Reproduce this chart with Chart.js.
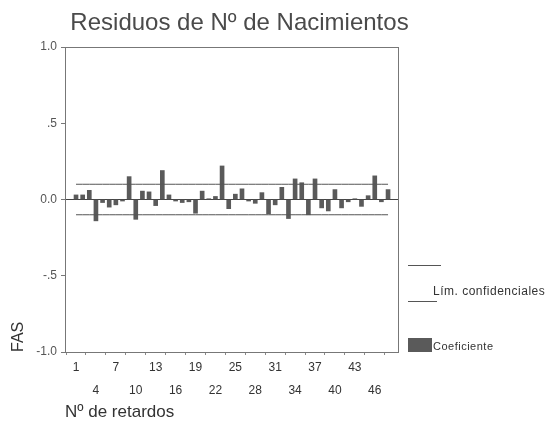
<!DOCTYPE html>
<html>
<head>
<meta charset="utf-8">
<script src="https://cdn.jsdelivr.net/npm/chart.js@4"></script>
<style>
  html, body { margin: 0; padding: 0; background: #fff; }
  #wrap { width: 547px; height: 425px; }
</style>
</head>
<body>
<div id="wrap"><canvas id="acf" width="547" height="425"></canvas></div>
<script>
// lags and autocorrelation values
const lags = [1,2,3,4,5,6,7,8,9,10,11,12,13,14,15,16,17,18,19,20,21,22,23,24,
              25,26,27,28,29,30,31,32,33,34,35,36,37,38,39,40,41,42,43,44,45,46,47,48];
const coef = [0.03, 0.03, 0.06, -0.14, -0.02, -0.05, -0.035, -0.01, 0.15, -0.13, 0.055, 0.05,
              -0.04, 0.19, 0.03, -0.01, -0.02, -0.015, -0.09, 0.055, 0.005, 0.02, 0.22, -0.06,
              0.035, 0.07, -0.01, -0.025, 0.045, -0.095, -0.035, 0.08, -0.125, 0.135, 0.11, -0.10,
              0.135, -0.055, -0.075, 0.065, -0.055, -0.015, 0.005, -0.045, 0.025, 0.155, -0.015, 0.065];
const upperLimit = lags.map(() => 0.10);
const lowerLimit = lags.map(() => -0.10);

// tick labels
const xTicks = [1,4,7,10,13,16,19,22,25,28,31,34,37,40,43,46];
const yTicks = [-1, -0.5, 0, 0.5, 1];
const yTickLabels = ["-1.0", "-.5", "0.0", ".5", "1.0"];

const chartTitle = "Residuos de Nº de Nacimientos";
const xTitle = "Nº de retardos";
const yTitle = "FAS";
const legendLimits = "Lím. confidenciales";
const legendCoef = "Coeficiente";

const FONT = "'Liberation Sans', Arial, sans-serif";

// title + legend drawn next to the plot, frame round the plot
const extras = {
  id: "extras",
  beforeDatasetsDraw(chart) {
    const ctx = chart.ctx, a = chart.chartArea;
    ctx.save();
    ctx.strokeStyle = "#777";
    ctx.lineWidth = 1;
    ctx.strokeRect(a.left + 0.5, a.top + 0.5, a.right - a.left, a.bottom - a.top);
    ctx.restore();
  },
  afterDraw(chart) {
    const ctx = chart.ctx, a = chart.chartArea;
    ctx.save();
    ctx.fillStyle = "#4a4a4a";
    ctx.font = "24px " + FONT;
    ctx.textAlign = "center";
    ctx.textBaseline = "middle";
    ctx.fillText(chartTitle, (a.left + a.right) / 2 + 8, 23);

    // legend
    const lx = a.right + 10;
    ctx.strokeStyle = "#555";
    ctx.lineWidth = 1;
    ctx.beginPath();
    ctx.moveTo(lx, 265.5); ctx.lineTo(lx + 33, 265.5);
    ctx.moveTo(lx, 301.5); ctx.lineTo(lx + 29, 301.5);
    ctx.stroke();
    ctx.fillStyle = "#333";
    ctx.font = "12px " + FONT;
    ctx.textAlign = "left";
    ctx.letterSpacing = "0.5px";
    ctx.fillText(legendLimits, lx + 25, 292);
    ctx.fillStyle = "#5a5a5a";
    ctx.fillRect(lx, 338, 24, 14);
    ctx.fillStyle = "#333";
    ctx.font = "11px " + FONT;
    ctx.fillText(legendCoef, lx + 25, 347);
    ctx.restore();
  }
};

const ctx = document.getElementById("acf").getContext("2d");
new Chart(ctx, {
  type: "bar",
  data: {
    datasets: [
      {
        type: "line",
        label: "upper",
        data: lags.map((l, i) => ({ x: l, y: upperLimit[i] })),
        borderColor: "#555",
        borderWidth: 1,
        pointRadius: 0,
        fill: false
      },
      {
        type: "line",
        label: "lower",
        data: lags.map((l, i) => ({ x: l, y: lowerLimit[i] })),
        borderColor: "#555",
        borderWidth: 1,
        pointRadius: 0,
        fill: false
      },
      {
        label: legendCoef,
        data: lags.map((l, i) => ({ x: l, y: coef[i] })),
        backgroundColor: "#5a5a5a",
        barThickness: 4
      }
    ]
  },
  options: {
    responsive: false,
    animation: false,
    layout: { padding: { left: 0, right: 149, top: 47, bottom: 0 } },
    plugins: {
      legend: { display: false },
      tooltip: { enabled: false }
    },
    scales: {
      x: {
        type: "linear",
        offset: false,
        min: -0.66,
        max: 49.5,
        afterBuildTicks: s => { s.ticks = xTicks.map(v => ({ value: v })); },
        afterFit: s => { s.height = 73; },
        border: { display: false },
        grid: { drawOnChartArea: false, tickLength: 3, color: "#888" },
        ticks: {
          padding: 2,
          color: "#333",
          font: { family: FONT, size: 12, lineHeight: 1.85 },
          maxRotation: 0,
          autoSkip: false,
          callback: (v, i) => (i % 2 === 0 ? [String(v), ""] : ["", String(v)])
        },
        title: {
          display: true,
          text: xTitle,
          align: "start",
          color: "#333",
          font: { family: FONT, size: 17 },
          padding: { top: 0, bottom: 2 }
        }
      },
      y: {
        min: -1,
        max: 1,
        afterBuildTicks: s => { s.ticks = yTicks.map(v => ({ value: v })); },
        afterFit: s => { s.width = 65; },
        border: { display: false },
        grid: {
          tickLength: 4,
          tickColor: "#777",
          color: c => (c.tick && c.tick.value === 0 ? "#444" : "rgba(0,0,0,0)")
        },
        ticks: {
          padding: 4,
          color: "#555",
          font: { family: FONT, size: 12 },
          callback: v => yTickLabels[yTicks.indexOf(v)]
        },
        title: {
          display: true,
          text: yTitle,
          align: "start",
          color: "#333",
          font: { family: FONT, size: 16 },
          padding: { top: 9, bottom: 0 }
        }
      }
    }
  },
  plugins: [extras]
});
</script>
</body>
</html>
